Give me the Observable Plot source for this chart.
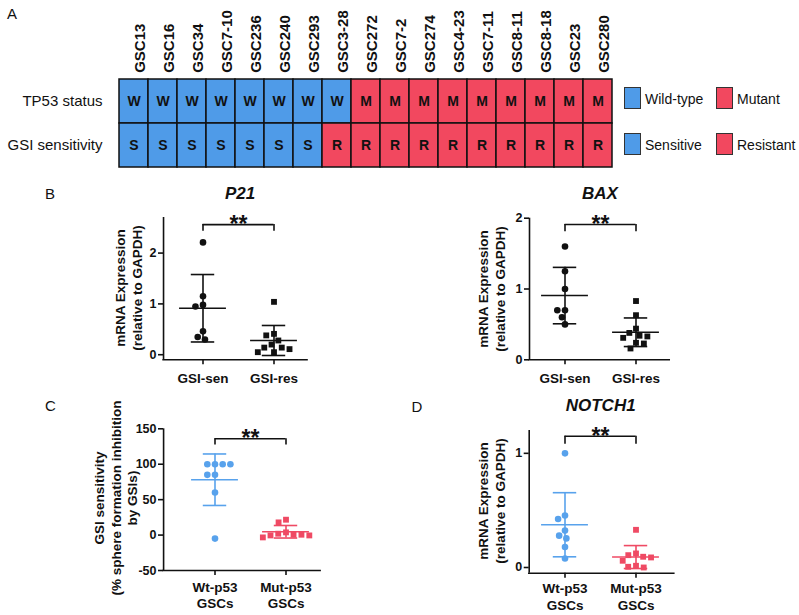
<!DOCTYPE html>
<html><head><meta charset="utf-8">
<script src="https://cdn.jsdelivr.net/npm/d3@7"></script>
<script src="https://cdn.jsdelivr.net/npm/@observablehq/plot@0.6"></script>
<style>
body{margin:0;background:#fff;}
#fig{position:relative;width:799px;height:615px;overflow:hidden;font-family:"Liberation Sans",Arial,Helvetica,sans-serif;color:#111;background:#fff;}
#fig svg{overflow:visible;}
.abs{position:absolute;}
.letter{font-size:15px;line-height:1;}
.title{font-weight:bold;font-style:italic;font-size:17px;line-height:1;white-space:nowrap;transform:translate(-50%,-50%);}
.ylab{font-weight:bold;font-size:13.5px;text-align:center;white-space:nowrap;transform:translate(-50%,-50%) rotate(-90deg);}
.sw{width:17px;height:22px;border:1px solid #333;box-sizing:border-box;}
.lg{font-size:14px;line-height:1;transform:translateY(-50%);white-space:nowrap;}
</style></head><body><div id="fig"></div>
<script>
// ---------- data ----------
const gscNames = ["GSC13","GSC16","GSC34","GSC7-10","GSC236","GSC240","GSC293","GSC3-28","GSC272","GSC7-2","GSC274","GSC4-23","GSC7-11","GSC8-11","GSC8-18","GSC23","GSC280"];
const rowNames = ["TP53 status","GSI sensitivity"];
const tp53Status = ["W","W","W","W","W","W","W","W","M","M","M","M","M","M","M","M","M"];
const gsiStatus  = ["S","S","S","S","S","S","S","R","R","R","R","R","R","R","R","R","R"];
const legendItems = [["Wild-type","W"],["Mutant","M"],["Sensitive","S"],["Resistant","R"]];

const senResGroups = ["GSI-sen","GSI-res"];
const p53Groups = ["Wt-p53\nGSCs","Mut-p53\nGSCs"];

const p21Sen = [2.21, 1.15, 0.98, 0.95, 0.46, 0.35, 0.30];
const p21Res = [1.04, 0.41, 0.38, 0.28, 0.20, 0.14, 0.14, 0.11, 0.05, 0.05];
const baxSen = [1.60, 1.25, 1.00, 0.70, 0.70, 0.60, 0.50];
const baxRes = [0.83, 0.63, 0.44, 0.38, 0.34, 0.33, 0.31, 0.24, 0.23, 0.16];
const gsiWt  = [100, 100, 100, 100, 85, 85, 60, -5];
const gsiMut = [21.7, 17.9, 3.8, 1.9, 0.5, 0.5, -0.5, -0.5, -3.3];
const notchWt  = [1.00, 0.455, 0.425, 0.323, 0.279, 0.255, 0.179, 0.079];
const notchMut = [0.33, 0.123, 0.108, 0.094, 0.088, 0.059, 0.015, 0.006, 0.0];

const sigP21 = {top: 2.56, tip: 2.43, label: "**"};
const sigBax = {top: 1.91, tip: 1.81, label: "**"};
const sigGsi = {top: 136, tip: 127, label: "**"};
const sigNotch = {top: 1.15, tip: 1.08, label: "**"};

// ---------- style ----------
const FONT = '"Liberation Sans", Arial, Helvetica, sans-serif';
const INK = "#111";
const heatBlue = "#4f9be8", heatRed = "#f2485f";
const dotBlue = "#58a2ec", dotRed = "#ef4a64";

const fig = document.getElementById("fig");
function place(node, left, top) {
  const d = document.createElement("div");
  d.className = "abs"; d.style.left = left + "px"; d.style.top = top + "px";
  d.appendChild(node); fig.appendChild(d); return d;
}
function html(cls, text, left, top, extra) {
  const d = document.createElement("div");
  d.className = "abs " + cls; d.style.left = left + "px"; d.style.top = top + "px";
  d.innerHTML = text; if (extra) Object.assign(d.style, extra);
  fig.appendChild(d); return d;
}

// ---------- panel A ----------
const cells = [];
gscNames.forEach((g, i) => {
  cells.push({gsc: g, row: rowNames[0], code: tp53Status[i]});
  cells.push({gsc: g, row: rowNames[1], code: gsiStatus[i]});
});
const heat = Plot.plot({
  width: 620, height: 170, marginLeft: 114, marginRight: 3, marginTop: 79.3, marginBottom: 2.7,
  style: {fontFamily: FONT, color: INK, background: "transparent"},
  x: {domain: gscNames, padding: 0, axis: null},
  y: {domain: rowNames, padding: 0, axis: null},
  color: {domain: ["W","S","M","R"], range: [heatBlue, heatBlue, heatRed, heatRed]},
  marks: [
    Plot.cell(cells, {x: "gsc", y: "row", fill: "code", stroke: INK, strokeWidth: 1.5, inset: 0}),
    Plot.text(cells, {x: "gsc", y: "row", text: "code", fontWeight: "bold", fontSize: 14, fill: INK}),
    Plot.text(gscNames, {x: d => d, frameAnchor: "top", rotate: -90, textAnchor: "start", dy: -7, fontWeight: "bold", fontSize: 15, fill: INK}),
    Plot.text(rowNames, {y: d => d, frameAnchor: "left", textAnchor: "end", dx: -12, fontSize: 15, fill: INK})
  ]
});
place(heat, 0, 0);
const lgColor = {W: heatBlue, M: heatRed, S: heatBlue, R: heatRed};
legendItems.forEach(([name, code], i) => {
  const col = i % 2, row = Math.floor(i / 2);
  const sx = col === 0 ? 624 : 716, cy = row === 0 ? 99 : 145;
  html("sw", "", sx, cy - 12, {background: lgColor[code]});
  html("lg", name, sx + 21, cy);
});

// ---------- scatter panels ----------
function scatter(o) {
  const {groups, values, shapes, colors, yDomain, yTicks, sig, axisX, bandLeft, band, rightEnd, width, height, top, bottom, labelDy} = o;
  const half = band / 2;
  const xLeft = -1 - (bandLeft - axisX) / half;
  const xRight = 3 + (rightEnd - (bandLeft + 2 * band)) / half;
  const first = [{group: groups[0]}];
  const marks = [];
  const lw = 1.6;
  marks.push(Plot.ruleX(first, {fx: "group", x: xLeft, y1: yDomain[0], y2: yDomain[1], stroke: INK, strokeWidth: lw}));
  marks.push(Plot.ruleY(first, {fx: "group", y: yDomain[0], x1: xLeft - 0.02, x2: xRight, stroke: INK, strokeWidth: lw}));
  marks.push(Plot.axisY({ticks: yTicks, tickFormat: d => String(d), tickSize: 5, tickPadding: 2, dx: -(bandLeft - axisX), fontWeight: "bold", fontSize: 12.5, strokeWidth: lw, stroke: INK, fill: INK, label: null}));
  marks.push(Plot.axisX({ticks: [0], tickSize: 5, tickFormat: () => "", strokeWidth: lw, stroke: INK, label: null}));
  marks.push(Plot.text(groups.map(g => ({group: g})), {fx: "group", text: "group", frameAnchor: "bottom", lineAnchor: "top", dy: labelDy, fontWeight: "bold", fontSize: 13.5, lineHeight: 1.22, fill: INK}));
  groups.forEach((g, k) => {
    const vals = values[k];
    const m = d3.mean(vals), s = d3.deviation(vals);
    const sm = [{group: g, mean: m, lo: m - s, hi: m + s}];
    const c = colors[k];
    marks.push(Plot.ruleX(sm, {fx: "group", x: 0, y1: "lo", y2: "hi", stroke: c, strokeWidth: lw}));
    marks.push(Plot.ruleY(sm, {fx: "group", y: "mean", x1: -0.66, x2: 0.66, stroke: c, strokeWidth: lw}));
    marks.push(Plot.ruleY(sm, {fx: "group", y: "hi", x1: -0.33, x2: 0.33, stroke: c, strokeWidth: lw}));
    marks.push(Plot.ruleY(sm, {fx: "group", y: "lo", x1: -0.33, x2: 0.33, stroke: c, strokeWidth: lw}));
    const pts = vals.slice().sort((a, b) => b - a).map(v => ({group: g, v}));
    const sq = shapes[k] === "square";
    marks.push(Plot.dot(pts, Plot.dodgeX({anchor: "middle", padding: sq ? 1.3 : 1.1},
      {fx: "group", y: "v", r: 3.3, symbol: shapes[k], fill: c, stroke: "none"})));
  });
  marks.push(Plot.ruleY(first, {fx: "group", y: sig.top, x1: 0, x2: 2, stroke: INK, strokeWidth: lw}));
  marks.push(Plot.ruleX(first, {fx: "group", x: 0, y1: sig.tip, y2: sig.top, stroke: INK, strokeWidth: lw}));
  marks.push(Plot.ruleX(first, {fx: "group", x: 2, y1: sig.tip, y2: sig.top, stroke: INK, strokeWidth: lw}));
  marks.push(Plot.text(first, {fx: "group", x: 1, y: sig.top, text: () => sig.label, fontSize: 23, fontWeight: "bold", fill: INK}));
  return Plot.plot({
    width, height, marginLeft: bandLeft, marginRight: width - bandLeft - 2 * band,
    marginTop: top, marginBottom: height - bottom,
    style: {fontFamily: FONT, color: INK, background: "transparent"},
    fx: {domain: groups, padding: 0, axis: null},
    x: {domain: [-1, 1]},
    y: {domain: yDomain},
    marks
  });
}

place(scatter({groups: senResGroups, values: [p21Sen, p21Res], shapes: ["circle","square"], colors: [INK, INK],
  yDomain: [-0.1, 2.7], yTicks: [0, 1, 2], sig: sigP21,
  axisX: 162, bandLeft: 166, band: 71.6, rightEnd: 308, width: 330, height: 200, top: 17, bottom: 159.3, labelDy: 11.5}), 0, 200);
place(scatter({groups: senResGroups, values: [baxSen, baxRes], shapes: ["circle","square"], colors: [INK, INK],
  yDomain: [0, 2], yTicks: [0, 1, 2], sig: sigBax,
  axisX: 128.3, bandLeft: 128.3, band: 71.7, rightEnd: 270.7, width: 290, height: 200, top: 17.7, bottom: 159.3, labelDy: 11.5}), 400, 200);
place(scatter({groups: p53Groups, values: [gsiWt, gsiMut], shapes: ["circle","square"], colors: [dotBlue, dotRed],
  yDomain: [-50, 150], yTicks: [-50, 0, 50, 100, 150], sig: sigGsi,
  axisX: 163, bandLeft: 179, band: 71.4, rightEnd: 321.7, width: 340, height: 200, top: 18.3, bottom: 160, labelDy: 9.5}), 0, 410);
place(scatter({groups: p53Groups, values: [notchWt, notchMut], shapes: ["circle","square"], colors: [dotBlue, dotRed],
  yDomain: [-0.05, 1.2], yTicks: [0, 1], sig: sigNotch,
  axisX: 128.3, bandLeft: 128.6, band: 71.4, rightEnd: 275, width: 290, height: 200, top: 20, bottom: 162.7, labelDy: 8.5}), 400, 410);

html("letter", "A", 7, 6);
html("letter", "B", 45, 186);
html("letter", "C", 45, 398);
html("letter", "D", 411.5, 399);
html("title", "P21", 240, 193);
html("title", "BAX", 600, 193);
html("title", "NOTCH1", 600.7, 405);
html("ylab", "mRNA Expression<br>(relative to GAPDH)", 128.5, 288, {lineHeight: "17px"});
html("ylab", "mRNA Expression<br>(relative to GAPDH)", 491.5, 288.5, {lineHeight: "17px"});
html("ylab", "GSI sensitivity<br>(% sphere formation inhibition<br>by GSIs)", 116.5, 498, {lineHeight: "16.5px"});
html("ylab", "mRNA Expression<br>(relative to GAPDH)", 491.7, 501, {lineHeight: "17px"});
</script></body></html>
